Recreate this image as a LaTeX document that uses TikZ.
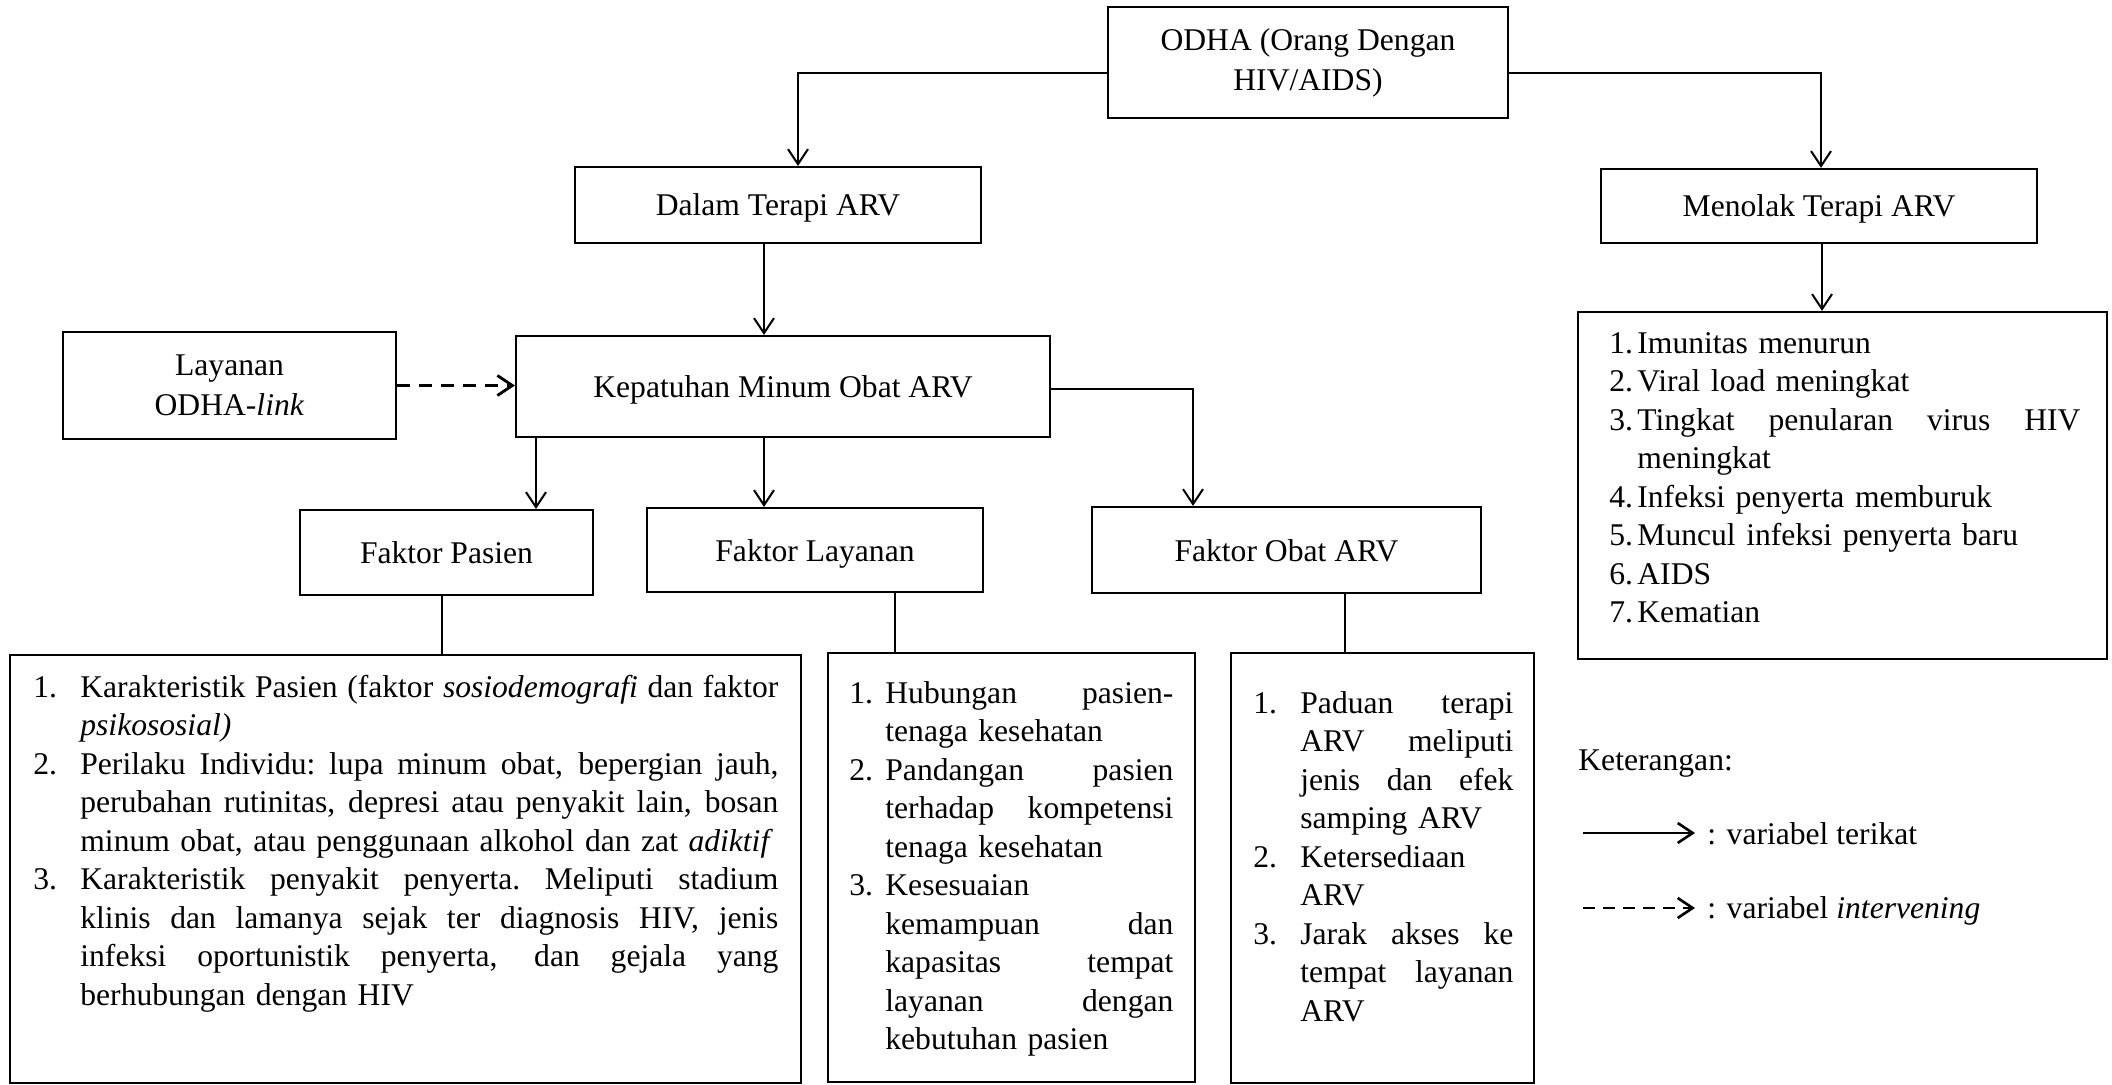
\documentclass[tikz,border=0pt]{standalone}
\usepackage{fontspec}
\setmainfont{Liberation Serif}
\usetikzlibrary{arrows.meta,calc}
\newlength{\jw}
\newcommand{\numlab}[2]{\leavevmode\llap{\makebox[#1][l]{#2}}}
\newcommand{\jus}[1]{\leavevmode\hbox to \jw{\spaceskip=0.25em plus 1fil\relax\xspaceskip=0.25em plus 1fil\relax #1}}
\begin{document}
\begin{tikzpicture}[x=0.5pt,y=-0.5pt,
  every node/.style={font=\fontsize{15.8pt}{19.25pt}\selectfont},
  box/.style={draw,line width=1.1pt,inner sep=0pt,align=center},
  one/.style={text height=11pt,text depth=0pt},
  lst/.style={inner sep=0pt,anchor=base west,align=left},
  txt/.style={inner sep=0pt,anchor=base west},
  arr/.style={line width=1pt,-{Straight Barb[length=7.5pt,width=10pt]}},
  dasharr/.style={line width=1.4pt,dash pattern=on 6.5pt off 4.5pt,-{Straight Barb[length=7.5pt,width=10pt]}},
  ln/.style={line width=1pt},
  legarr/.style={line width=1.3pt,-{Straight Barb[length=7.5pt,width=10pt]}},
  legdash/.style={line width=1.3pt,dash pattern=on 6pt off 4pt,-{Straight Barb[length=7.5pt,width=10pt]}}
]
\useasboundingbox (0,0) rectangle (2112,1085);

% boxes
\node[box,minimum width=200pt,minimum height=55.5pt] (odha) at (1308,62.5) {ODHA (Orang Dengan\\[0.75pt]HIV/AIDS)};
\node[box,one,minimum width=203pt,minimum height=38pt] (dalam) at (778,205) {Dalam Terapi ARV};
\node[box,one,minimum width=218pt,minimum height=37pt] (menolak) at (1819,206) {Menolak Terapi ARV};
\node[box,one,minimum width=267pt,minimum height=50.5pt] (kep) at (783,386.5) {Kepatuhan Minum Obat ARV};
\node[box,minimum width=166.5pt,minimum height=53.5pt] (link) at (229.5,385.5) {Layanan\\[0.75pt]ODHA-\textit{link}};
\node[box,one,minimum width=146.5pt,minimum height=42.5pt] (fpas) at (446.5,552.5) {Faktor Pasien};
\node[box,one,minimum width=168pt,minimum height=42pt] (flay) at (815,550) {Faktor Layanan};
\node[box,one,minimum width=194.5pt,minimum height=43pt] (fobat) at (1286.5,550) {Faktor Obat ARV};
\node[box,minimum width=395.5pt,minimum height=214pt] (lpas) at (405.5,869) {};
\node[box,minimum width=183.5pt,minimum height=214.5pt] (llay) at (1011.5,867.5) {};
\node[box,minimum width=151.5pt,minimum height=215pt] (lobat) at (1382.5,868) {};
\node[box,minimum width=264.5pt,minimum height=173.5pt] (lres) at (1842.5,485.5) {};

% list texts
\setlength{\jw}{349pt}
\node[lst,text width=349pt] (tpas) at (80,697) {%
\numlab{23.5pt}{1.}\jus{Karakteristik Pasien (faktor \textit{sosiodemografi} dan faktor}\\
\textit{psikososial)}\\
\numlab{23.5pt}{2.}\jus{Perilaku Individu: lupa minum obat, bepergian jauh,}\\
\jus{perubahan rutinitas, depresi atau penyakit lain, bosan}\\
minum obat, atau penggunaan alkohol dan zat \textit{adiktif}\\
\numlab{23.5pt}{3.}\jus{Karakteristik penyakit penyerta. Meliputi stadium}\\
\jus{klinis dan lamanya sejak ter diagnosis HIV, jenis}\\
\jus{infeksi oportunistik penyerta, dan gejala yang}\\
berhubungan dengan HIV};

\setlength{\jw}{144pt}
\node[lst,text width=144pt] (tlay) at (885,703) {%
\numlab{18pt}{1.}\jus{Hubungan pasien-}\\
tenaga kesehatan\\
\numlab{18pt}{2.}\jus{Pandangan pasien}\\
\jus{terhadap kompetensi}\\
tenaga kesehatan\\
\numlab{18pt}{3.}Kesesuaian\\
\jus{kemampuan dan}\\
\jus{kapasitas tempat}\\
\jus{layanan dengan}\\
kebutuhan pasien};

\setlength{\jw}{106.5pt}
\node[lst,text width=106.5pt] (tobat) at (1300,713) {%
\numlab{23.5pt}{1.}\jus{Paduan terapi}\\
\jus{ARV meliputi}\\
\jus{jenis dan efek}\\
samping ARV\\
\numlab{23.5pt}{2.}Ketersediaan\\
ARV\\
\numlab{23.5pt}{3.}\jus{Jarak akses ke}\\
\jus{tempat layanan}\\
ARV};

\setlength{\jw}{221.5pt}
\node[lst,text width=221.5pt] (tres) at (1637,353) {%
\numlab{14pt}{1.}Imunitas menurun\\
\numlab{14pt}{2.}Viral load meningkat\\
\numlab{14pt}{3.}\jus{Tingkat penularan virus HIV}\\
meningkat\\
\numlab{14pt}{4.}Infeksi penyerta memburuk\\
\numlab{14pt}{5.}Muncul infeksi penyerta baru\\
\numlab{14pt}{6.}AIDS\\
\numlab{14pt}{7.}Kematian};

% connectors
\coordinate (c1) at (798,73);
\coordinate (c2) at (1821,73);
\coordinate (c3) at (764,0);
\coordinate (c4) at (1822,0);
\coordinate (c5) at (536,0);
\coordinate (c6) at (1193,389);
\coordinate (c7) at (442,0);
\coordinate (c8) at (895,0);
\coordinate (c9) at (1345,0);
\draw[arr] (c1 -| odha.west) -- (c1) -- (c1 |- dalam.north);
\draw[arr] (c2 -| odha.east) -- (c2) -- (c2 |- menolak.north);
\draw[arr] (c3 |- dalam.south) -- (c3 |- kep.north);
\draw[arr] (c4 |- menolak.south) -- (c4 |- lres.north);
\draw[dasharr] (link.east) -- (link.east -| kep.west);
\draw[arr] (c5 |- kep.south) -- (c5 |- fpas.north);
\draw[arr] (c3 |- kep.south) -- (c3 |- flay.north);
\draw[arr] (c6 -| kep.east) -- (c6) -- (c6 |- fobat.north);
\draw[ln] (c7 |- fpas.south) -- (c7 |- lpas.north);
\draw[ln] (c8 |- flay.south) -- (c8 |- llay.north);
\draw[ln] (c9 |- fobat.south) -- (c9 |- lobat.north);

% legend
\node[txt] (ket) at (1578,770) {Keterangan:};
\coordinate (la1) at (1583,833);
\coordinate (la2) at (1695,833);
\coordinate (lb1) at (1583,908);
\coordinate (lb2) at (1695,908);
\draw[legarr] (la1) -- (la2);
\draw[legdash] (lb1) -- (lb2);
\node[txt] (lt1) at (1707,844) {: variabel terikat};
\node[txt] (lt2) at (1707,918) {: variabel \textit{intervening}};
\end{tikzpicture}
\end{document}
